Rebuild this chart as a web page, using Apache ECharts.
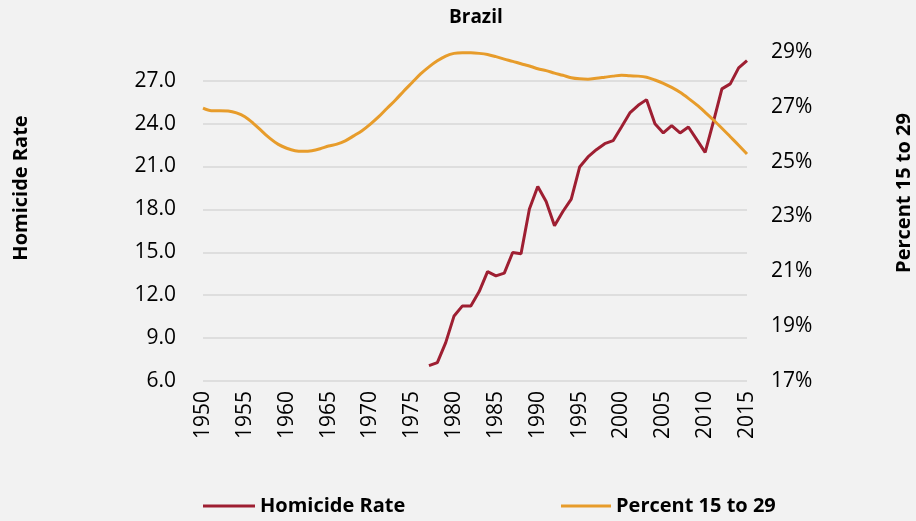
<!DOCTYPE html>
<html>
<head>
<meta charset="utf-8">
<script src="https://cdn.jsdelivr.net/npm/echarts@6/dist/echarts.min.js"></script>
<style>
html,body{margin:0;padding:0;background:#f2f2f2;}
#chart{width:916px;height:521px;}
</style>
</head>
<body>
<div id="chart"></div>
<script>
var years = [1950,1951,1952,1953,1954,1955,1956,1957,1958,1959,
  1960,1961,1962,1963,1964,1965,1966,1967,1968,1969,
  1970,1971,1972,1973,1974,1975,1976,1977,1978,1979,
  1980,1981,1982,1983,1984,1985,1986,1987,1988,1989,
  1990,1991,1992,1993,1994,1995,1996,1997,1998,1999,
  2000,2001,2002,2003,2004,2005,2006,2007,2008,2009,
  2010,2011,2012,2013,2014,2015];

var homicideYears = [1977,1978,1979,1980,1981,1982,1983,1984,1985,1986,
  1987,1988,1989,1990,1991,1992,1993,1994,1995,1996,
  1997,1998,1999,2000,2001,2002,2003,2004,2005,2006,
  2007,2008,2009,2010,2011,2012,2013,2014,2015];
var homicideRate = [7.07,7.28,8.68,10.55,11.25,11.25,12.25,13.65,13.35,13.54,
  14.98,14.89,18.02,19.60,18.55,16.85,17.85,18.72,20.96,21.66,
  22.17,22.59,22.80,23.76,24.74,25.27,25.67,23.99,23.34,23.85,
  23.34,23.76,22.87,21.98,24.15,26.42,26.77,27.89,28.40];

var percent15to29 = [26.95,26.86,26.86,26.85,26.78,26.64,26.40,26.12,25.85,25.63,
  25.49,25.40,25.38,25.40,25.47,25.57,25.64,25.76,25.94,26.13,
  26.37,26.64,26.95,27.25,27.58,27.89,28.20,28.46,28.68,28.85,
  28.95,28.97,28.97,28.95,28.91,28.83,28.74,28.66,28.57,28.49,
  28.39,28.32,28.23,28.15,28.06,28.02,28.01,28.04,28.08,28.12,
  28.15,28.13,28.12,28.08,27.98,27.86,27.71,27.53,27.31,27.07,
  26.80,26.52,26.22,25.91,25.60,25.28];

var leftTicks = {min: 6, max: 29, interval: 3};
var rightTicks = {min: 17, max: 29, interval: 2};

var FONT = "'Open Sans', sans-serif";
var RED = '#9e1f32';
var ORANGE = '#e79c2b';

var homicideData = years.map(function (y) {
  var i = homicideYears.indexOf(y);
  return i >= 0 ? homicideRate[i] : null;
});

var chart = echarts.init(document.getElementById('chart'));
chart.setOption({
  backgroundColor: '#f2f2f2',
  animation: false,
  title: {
    text: 'Brazil', left: 449, top: 8, padding: 0,
    textStyle: {fontFamily: FONT, fontWeight: 'bold', fontSize: 19, color: '#000'}
  },
  grid: {left: 203, right: 169, top: 52, bottom: 140},
  legend: [
    {data: ['Homicide Rate'], left: 203, top: 496, icon: 'rect', itemWidth: 52, itemHeight: 3, padding: 0,
     textStyle: {fontFamily: FONT, fontWeight: 'bold', fontSize: 20, color: '#000'}},
    {data: ['Percent 15 to 29'], left: 561, top: 496, icon: 'rect', itemWidth: 50, itemHeight: 3, padding: 0,
     textStyle: {fontFamily: FONT, fontWeight: 'bold', fontSize: 20, color: '#000'}}
  ],
  xAxis: {
    type: 'category', data: years, boundaryGap: false,
    axisLine: {show: false}, axisTick: {show: false},
    axisLabel: {interval: 4, rotate: 90, margin: 10, fontFamily: FONT, fontSize: 21, color: '#000'}
  },
  yAxis: [
    {type: 'value', min: leftTicks.min, max: leftTicks.max, interval: leftTicks.interval,
     axisLine: {show: false}, axisTick: {show: false},
     axisLabel: {margin: 27, fontFamily: FONT, fontSize: 21, color: '#000', showMaxLabel: false,
       formatter: function (v) { return v.toFixed(1); }},
     splitLine: {show: true, lineStyle: {width: 2,
       color: ['#dedede','#dedede','#dedede','#dedede','#dedede','#dedede','#dedede','#dedede','#f2f2f2']}}
    },
    {type: 'value', min: rightTicks.min, max: rightTicks.max, interval: rightTicks.interval, position: 'right',
     axisLine: {show: false}, axisTick: {show: false}, splitLine: {show: false},
     axisLabel: {margin: 24, fontFamily: FONT, fontSize: 21, color: '#000',
       formatter: function (v) { return Math.round(v) + '%'; }}
    }
  ],
  graphic: [
    {type: 'text', x: 21, y: 188, rotation: Math.PI / 2,
     style: {text: 'Homicide Rate', fontFamily: FONT, fontWeight: 'bold', fontSize: 20, fill: '#000', align: 'center', verticalAlign: 'middle'}},
    {type: 'text', x: 904, y: 193, rotation: Math.PI / 2,
     style: {text: 'Percent 15 to 29', fontFamily: FONT, fontWeight: 'bold', fontSize: 20, fill: '#000', align: 'center', verticalAlign: 'middle'}}
  ],
  series: [
    {name: 'Homicide Rate', type: 'line', yAxisIndex: 0, data: homicideData, symbol: 'none',
     lineStyle: {color: RED, width: 3}, itemStyle: {color: RED}, connectNulls: false},
    {name: 'Percent 15 to 29', type: 'line', yAxisIndex: 1, data: percent15to29, symbol: 'none', smooth: 0.3,
     lineStyle: {color: ORANGE, width: 3}, itemStyle: {color: ORANGE}}
  ]
});
</script>
</body>
</html>
